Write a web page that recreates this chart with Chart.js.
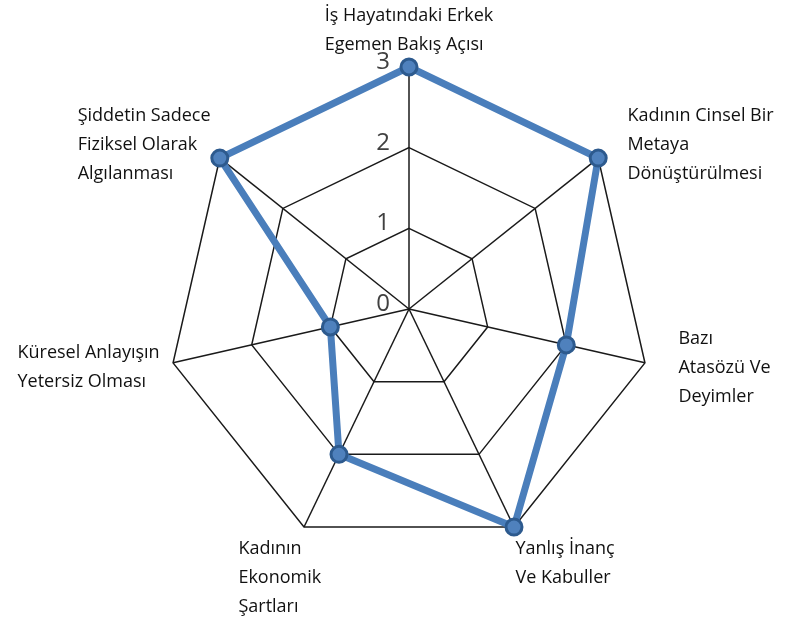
<!DOCTYPE html>
<html lang="tr">
<head>
<meta charset="utf-8">
<title>Radar</title>
<script src="https://cdn.jsdelivr.net/npm/chart.js@4/dist/chart.umd.min.js"></script>
<style>
  html, body { margin: 0; padding: 0; background: #fff; }
  canvas { display: block; }
</style>
</head>
<body>
<canvas id="grafikRadar" width="796" height="618"></canvas>
<script>
// eksen etiketleri (satir satir)
const kategoriler = [
    ['İş Hayatındaki Erkek', 'Egemen Bakış Açısı'],
    ['Kadının Cinsel Bir', 'Metaya', 'Dönüştürülmesi'],
    ['Bazı', 'Atasözü Ve', 'Deyimler'],
    ['Yanlış İnanç', 'Ve Kabuller'],
    ['Kadının', 'Ekonomik', 'Şartları'],
    ['Küresel Anlayışın', 'Yetersiz Olması'],
    ['Şiddetin Sadece', 'Fiziksel Olarak', 'Algılanması']
];
const degerler = [3, 3, 2, 3, 2, 1, 3];
const olcekEtiketleri = [0, 1, 2, 3];

const renkCizgi = '#4a7ebb';
const renkNokta = '#4f81bd';
const renkNoktaKenar = '#2d5a8e';
const renkIzgara = '#1a1a1a';

// etiketleri Excel gibi elle yaziyoruz (0 da gorunsun diye)
const etiketEklentisi = {
    id: 'etiketler',
    afterDraw: function (chart) {
        const olcek = chart.scales.r;
        const ctx = chart.ctx;
        ctx.save();

        // olcek degerleri
        ctx.font = '24px "Open Sans"';
        ctx.fillStyle = '#404040';
        ctx.textAlign = 'right';
        ctx.textBaseline = 'middle';
        olcekEtiketleri.forEach(v => {
            const d = olcek.getDistanceFromCenterForValue(v);
            ctx.fillText(String(v), olcek.xCenter - 19, olcek.yCenter - d - 5);
        });

        // kategori etiketleri
        ctx.font = '18px "Open Sans"';
        ctx.fillStyle = '#111';
        ctx.textAlign = 'left';
        const satir = 29;
        chart.data.labels.forEach((satirlar, i) => {
            const ust = olcek.getPointPosition(i, olcek.drawingArea + 8);
            const cos = Math.cos(ust.angle);
            const sin = Math.sin(ust.angle);
            const gen = Math.max(...satirlar.map(s => ctx.measureText(s).width));
            const yuk = satirlar.length * satir;
            let x, y;
            if (Math.abs(cos) < 0.05) {
                x = ust.x - gen / 2;
                y = ust.y - yuk;
            } else if (sin > 0.6) {
                x = cos > 0 ? ust.x - 2 : ust.x - gen * 0.75;
                y = ust.y;
            } else {
                const yan = olcek.getPointPosition(i, olcek.drawingArea + 22);
                x = cos > 0 ? yan.x + 12 : yan.x - gen + 8;
                y = yan.y - yuk / 2;
            }
            satirlar.forEach((s, j) => ctx.fillText(s, x, y + satir * (j + 0.5)));
        });
        ctx.restore();
    }
};

const ctx = document.getElementById('grafikRadar').getContext('2d');
new Chart(ctx, {
    type: 'radar',
    data: {
        labels: kategoriler,
        datasets: [{
            data: degerler,
            borderColor: renkCizgi,
            borderWidth: 7,
            fill: false,
            tension: 0,
            pointRadius: 8,
            pointBorderWidth: 3,
            pointBackgroundColor: renkNokta,
            pointBorderColor: renkNoktaKenar
        }]
    },
    options: {
        responsive: false,
        animation: false,
        layout: { padding: { left: 167, right: 145, top: 67, bottom: 67 } },
        plugins: { legend: { display: false }, tooltip: { enabled: false } },
        scales: {
            r: {
                min: 0,
                max: 3,
                ticks: { stepSize: 1, display: false },
                pointLabels: { display: false },
                grid: { color: renkIzgara, lineWidth: 1.5 },
                angleLines: { color: renkIzgara, lineWidth: 1.5 }
            }
        }
    },
    plugins: [etiketEklentisi]
});
</script>
</body>
</html>
